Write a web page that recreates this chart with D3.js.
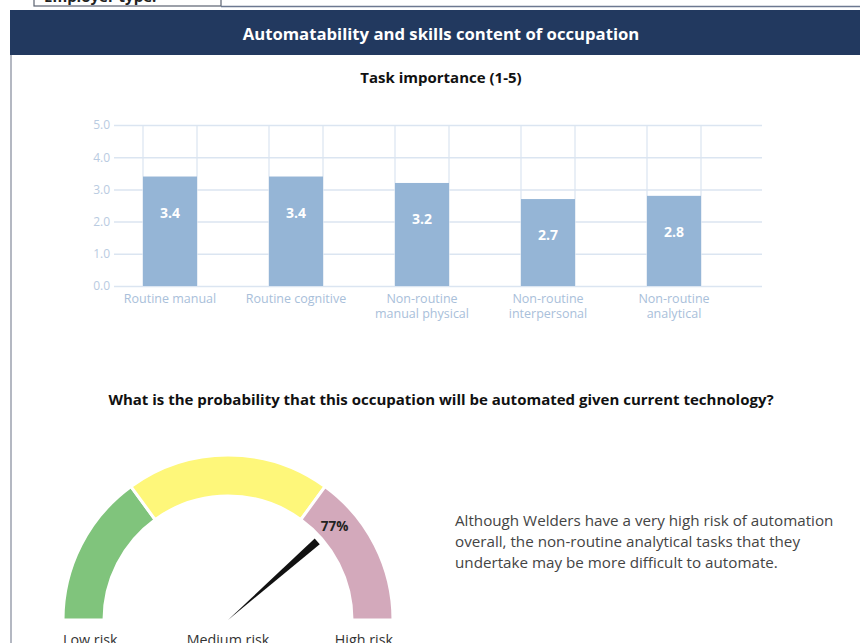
<!DOCTYPE html>
<html>
<head>
<meta charset="utf-8">
<script src="https://cdn.jsdelivr.net/npm/d3@7"></script>
<style>
  html, body { margin: 0; padding: 0; background: #fff; }
  svg { display: block; font-family: "Open Sans", sans-serif; }
</style>
</head>
<body>
<div id="chart"></div>
<script>
// task importance bars
const tasks = ["Routine manual", "Routine cognitive", "Non-routine manual physical",
  "Non-routine interpersonal", "Non-routine analytical"];
const taskLines = [["Routine manual"], ["Routine cognitive"], ["Non-routine", "manual physical"],
  ["Non-routine", "interpersonal"], ["Non-routine", "analytical"]];
const importance = [3.4, 3.4, 3.2, 2.7, 2.8];
const yTicks = [0, 1, 2, 3, 4, 5];

// gauge bands (percent) and value
const riskBands = [
  { name: "Low risk", from: 0, to: 30, color: "#80c47c" },
  { name: "Medium risk", from: 30, to: 70, color: "#fef77a" },
  { name: "High risk", from: 70, to: 100, color: "#d3a9bb" }
];
const riskValue = 77;
const note = ["Although Welders have a very high risk of automation",
  "overall, the non-routine analytical tasks that they",
  "undertake may be more difficult to automate."];

const W = 860, H = 643;
const svg = d3.select("#chart").append("svg").attr("width", W).attr("height", H);

// clipped form row at top
svg.append("rect").attr("x", 34).attr("y", -12).attr("width", 187).attr("height", 18)
  .attr("fill", "#fff").attr("stroke", "#5a6270").attr("stroke-width", 1.2);
svg.append("text").attr("x", 44).attr("y", 2).attr("font-size", 15).attr("font-weight", "bold")
  .attr("fill", "#222").text("Employer type:");
svg.append("line").attr("x1", 221).attr("x2", W).attr("y1", 6.5).attr("y2", 6.5)
  .attr("stroke", "#6c7890").attr("stroke-width", 1.5);

// header band
svg.append("rect").attr("x", 10).attr("y", 10).attr("width", W - 10).attr("height", 45)
  .attr("fill", "#22395f");
svg.append("text").attr("x", 441).attr("y", 40).attr("text-anchor", "middle")
  .attr("font-size", 16.7).attr("font-weight", "bold").attr("fill", "#fff")
  .text("Automatability and skills content of occupation");

// left border
svg.append("line").attr("x1", 11).attr("x2", 11).attr("y1", 55).attr("y2", H)
  .attr("stroke", "#b4b8c2").attr("stroke-width", 2);

svg.append("text").attr("x", 441).attr("y", 83).attr("text-anchor", "middle")
  .attr("font-size", 15).attr("font-weight", "bold").attr("fill", "#111")
  .text("Task importance (1-5)");

// bar chart
const x = d3.scaleBand().domain(tasks).range([107, 737]).paddingInner(0.5714).paddingOuter(0.2857);
const y = d3.scaleLinear().domain([0, 5]).range([286, 125]);
const grid = "#dbe5f1";

const gAxis = svg.append("g").attr("transform", "translate(114,0)")
  .call(d3.axisLeft(y).tickValues(yTicks).tickFormat(d3.format(".1f")).tickSize(-648).tickPadding(4));
gAxis.select(".domain").remove();
gAxis.selectAll(".tick line").attr("stroke", grid).attr("stroke-width", 1.5);
gAxis.selectAll(".tick text").attr("fill", "#b9cbe1").attr("font-size", 12)
  .attr("font-family", "Open Sans, sans-serif");

// vertical grid at bar edges
const edges = tasks.flatMap(t => [x(t), x(t) + x.bandwidth()]);
svg.append("g").selectAll("line").data(edges).join("line")
  .attr("x1", d => d).attr("x2", d => d).attr("y1", y(5)).attr("y2", y(0))
  .attr("stroke", grid).attr("stroke-width", 1.2);

svg.append("g").selectAll("rect").data(tasks).join("rect")
  .attr("x", d => x(d)).attr("width", x.bandwidth())
  .attr("y", (d, i) => y(importance[i])).attr("height", (d, i) => y(0) - y(importance[i]))
  .attr("fill", "#95b5d6");

svg.append("g").selectAll("text").data(tasks).join("text")
  .attr("x", d => x(d) + x.bandwidth() / 2)
  .attr("y", (d, i) => y(importance[i]) + 41)
  .attr("text-anchor", "middle").attr("font-size", 14).attr("font-weight", "bold")
  .attr("fill", "#fff").text((d, i) => importance[i].toFixed(1));

// category labels, one text per line
const catRows = tasks.flatMap((t, i) => taskLines[i].map((s, j) => ({ t, s, j })));
svg.append("g").selectAll("text").data(catRows).join("text")
  .attr("x", d => x(d.t) + x.bandwidth() / 2).attr("y", d => 303 + d.j * 14.5)
  .attr("text-anchor", "middle").attr("font-size", 12.5).attr("fill", "#a9c0da")
  .text(d => d.s);

svg.append("text").attr("x", 441).attr("y", 405).attr("text-anchor", "middle")
  .attr("font-size", 15).attr("font-weight", "bold").attr("fill", "#111")
  .text("What is the probability that this occupation will be automated given current technology?");

// gauge
const cx = 228, cy = 620, rOut = 165, rIn = 124;
const ang = d3.scaleLinear().domain([0, 100]).range([-Math.PI / 2, Math.PI / 2]);
const arc = d3.arc().innerRadius(rIn).outerRadius(rOut);
const gauge = svg.append("g").attr("transform", `translate(${cx},${cy})`);
gauge.selectAll("path").data(riskBands).join("path")
  .attr("d", d => arc({ startAngle: ang(d.from), endAngle: ang(d.to) }))
  .attr("fill", d => d.color).attr("stroke", "#fff").attr("stroke-width", 3);

// needle
const a = ang(riskValue);
const nLen = 119, half = 0.032;
const pt = (r, t) => [r * Math.sin(t), -r * Math.cos(t)];
gauge.append("path")
  .attr("d", d3.line()([[0, 0], pt(nLen, a - half), pt(nLen, a + half)]) + "Z")
  .attr("fill", "#111");

const lp = pt(142, a);
gauge.append("text").attr("x", lp[0]).attr("y", lp[1] + 5).attr("text-anchor", "middle")
  .attr("font-size", 13.5).attr("font-weight", "bold").attr("fill", "#222")
  .text(riskValue + "%");

const anchors = ["start", "middle", "end"];
const lx = [cx - rOut, cx, cx + rOut];
svg.append("g").selectAll("text").data(riskBands).join("text")
  .attr("x", (d, i) => lx[i]).attr("y", 645).attr("text-anchor", (d, i) => anchors[i])
  .attr("font-size", 14.3).attr("fill", "#333").text(d => d.name);

svg.append("g").selectAll("text").data(note).join("text")
  .attr("x", 455).attr("y", (d, i) => 526 + i * 21)
  .attr("font-size", 15.2).attr("fill", "#444").text(d => d);
</script>
</body>
</html>
